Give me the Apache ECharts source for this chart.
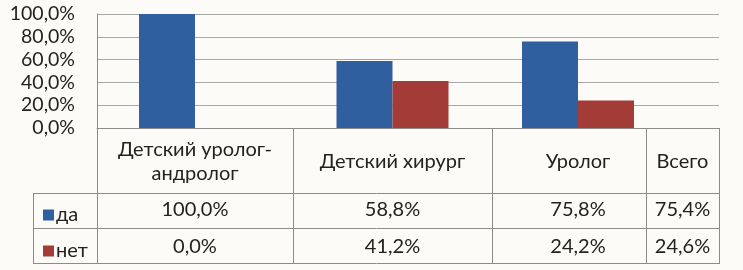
<!DOCTYPE html>
<html><head><meta charset="utf-8">
<script src="https://cdn.jsdelivr.net/npm/echarts@6/dist/echarts.min.js"></script>
<style>html,body{margin:0;padding:0;background:#fdfbf8;}#c{width:743px;height:270px;}</style>
</head><body><div id="c"></div>
<script>
const categories = ['Детский уролог-андролог', 'Детский хирург', 'Уролог', 'Всего'];
const daValues = [100.0, 58.8, 75.8, 75.4];
const netValues = [0.0, 41.2, 24.2, 24.6];
const seriesNames = ['да', 'нет'];
const yTicks = [0, 20, 40, 60, 80, 100];
const barCount = 3; // the reference draws bars for the first three columns only

const FONT = 'Lato';
const TXT = '#222';
const FS = 20;
const colors = ['#2f5f9f', '#a33b37'];
const fmt = v => v.toFixed(1).replace('.', ',') + '%';

// layout
const plotTop = 14, plotBottom = 128;
const colLeft = [97, 293, 500, 646];
const colWidth = [196, 199, 156, 73];
const tableX = [97, 293, 492, 646, 719];
const rowY = [193, 228, 263];

const grids = [{left: 97, width: 622, top: plotTop, height: plotBottom - plotTop}];
const xAxes = [{gridIndex: 0, type: 'category', data: [''], axisTick: {show: false}, axisLabel: {show: false},
  axisLine: {show: true, lineStyle: {color: '#8c8c8c'}}}];
const yAxes = [{gridIndex: 0, type: 'value', min: yTicks[0], max: yTicks[yTicks.length - 1], interval: yTicks[1] - yTicks[0],
  axisLine: {show: true, lineStyle: {color: '#8c8c8c'}}, axisTick: {show: false},
  splitLine: {lineStyle: {color: '#a8a8a8', width: 1}},
  axisLabel: {formatter: v => fmt(v), color: TXT, fontFamily: FONT, fontSize: 19.5, margin: 22}}];
const series = [];

categories.forEach((cat, i) => {
  const g = grids.length;
  grids.push({left: colLeft[i], width: colWidth[i], top: plotTop, height: plotBottom - plotTop});
  yAxes.push({gridIndex: g, type: 'value', min: 0, max: 100, show: false});
  const base = {gridIndex: g, type: 'category', position: 'bottom', axisLine: {show: false}, axisTick: {show: false}};
  const xi = xAxes.length;
  xAxes.push(Object.assign({}, base, {data: [cat], axisLabel: {formatter: s => s.replace('-', '-\n'), color: TXT,
    fontFamily: FONT, fontSize: FS, lineHeight: 24, verticalAlign: 'middle', margin: 34}}));
  xAxes.push(Object.assign({}, base, {data: [fmt(daValues[i])], axisLabel: {color: TXT, fontFamily: FONT, fontSize: FS,
    verticalAlign: 'middle', margin: 82}}));
  xAxes.push(Object.assign({}, base, {data: [fmt(netValues[i])], axisLabel: {color: TXT, fontFamily: FONT, fontSize: FS,
    verticalAlign: 'middle', margin: 119}}));
  if (i < barCount) {
    [daValues, netValues].forEach((arr, k) => {
      series.push({type: 'bar', name: seriesNames[k], xAxisIndex: xi, yAxisIndex: yAxes.length - 1,
        data: [arr[i]], barWidth: 56, barGap: '0%', itemStyle: {color: colors[k]}, silent: true});
    });
  }
});

const lines = [];
const L = (x1, y1, x2, y2) => lines.push({type: 'line', shape: {x1, y1, x2, y2},
  style: {stroke: '#8c8c8c', lineWidth: 1}, silent: true});
tableX.forEach(x => L(x + 0.5, plotBottom, x + 0.5, rowY[2]));
rowY.forEach(y => L(33, y + 0.5, tableX[4] + 1, y + 0.5));
L(33.5, rowY[0], 33.5, rowY[2]);

const chart = echarts.init(document.getElementById('c'), null, {renderer: 'canvas'});
chart.setOption({
  backgroundColor: '#fdfbf8',
  animation: false,
  grid: grids,
  xAxis: xAxes,
  yAxis: yAxes,
  legend: [
    {data: [seriesNames[0]], left: 38, top: 200, itemWidth: 11, itemHeight: 11, icon: 'rect', itemGap: 4,
      textStyle: {color: TXT, fontFamily: FONT, fontSize: FS, padding: [0, 0, 0, -3]}, selectedMode: false},
    {data: [seriesNames[1]], left: 38, top: 236, itemWidth: 11, itemHeight: 11, icon: 'rect', itemGap: 4,
      textStyle: {color: TXT, fontFamily: FONT, fontSize: FS, padding: [0, 0, 0, -3]}, selectedMode: false}
  ],
  series: series,
  graphic: lines
});
</script></body></html>
